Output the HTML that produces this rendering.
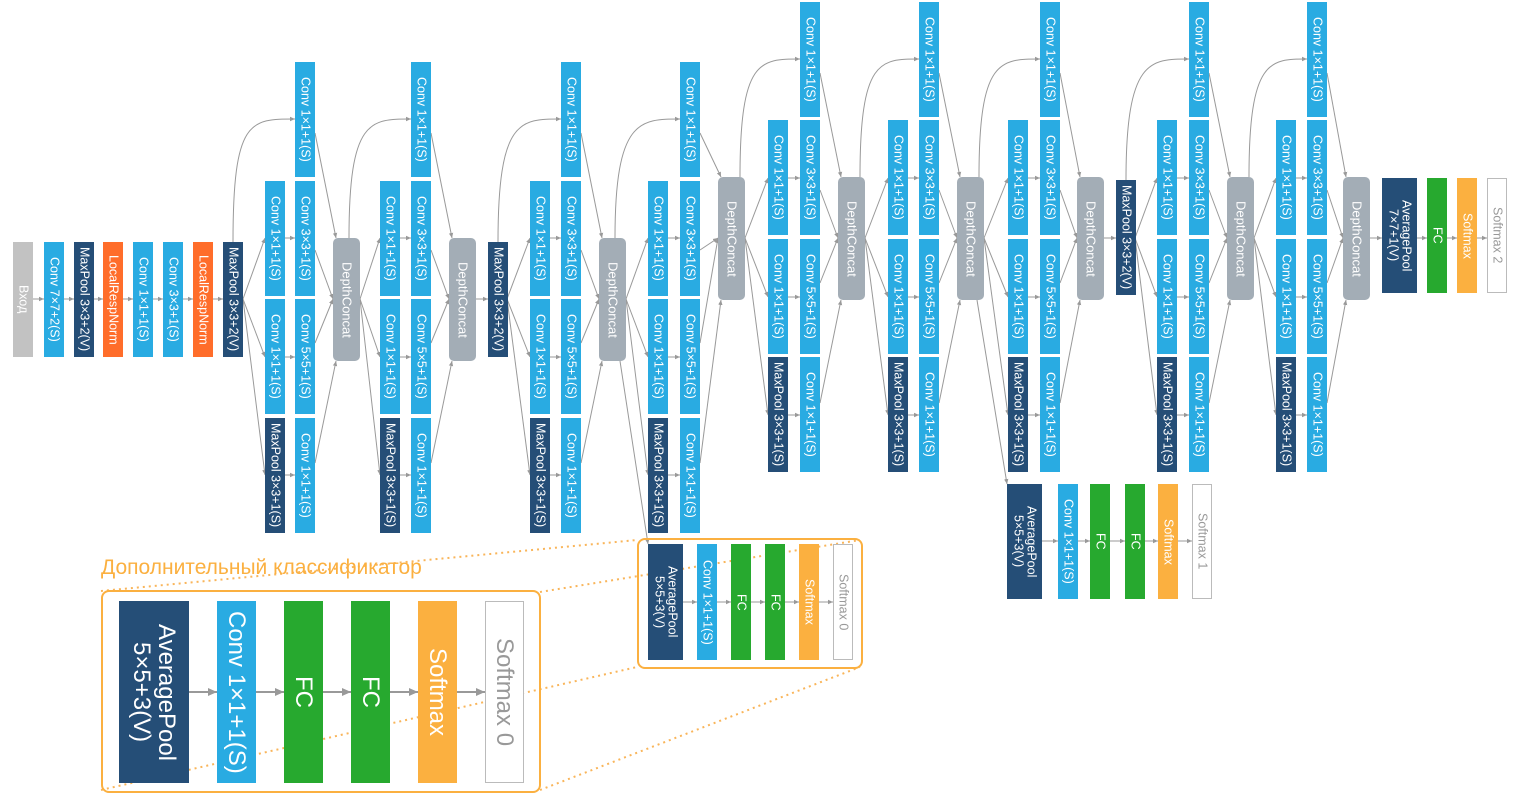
<!DOCTYPE html>
<html><head><meta charset="utf-8">
<style>
html,body{margin:0;padding:0;background:#fff;}
body{width:1515px;height:800px;position:relative;overflow:hidden;font-family:"Liberation Sans","Noto Sans CJK SC",sans-serif;}
.b{position:absolute;width:20px;height:115px;display:flex;align-items:center;justify-content:center;writing-mode:vertical-rl;text-orientation:sideways;color:#fff;font-size:12.5px;white-space:nowrap;box-sizing:border-box;line-height:1.05;text-align:center;}
.c{background:#29abe2;}
.m{background:#254e77;}
.o{background:#ff6d2a;}
.g{background:#c2c2c2;}
.f{background:#27a92f;}
.s{background:#fbb040;}
.w{background:#fff;border:1px solid #bbb;color:#999;}
.d{background:#a3adb6;width:27px;height:123px;border-radius:5px;font-size:13px;}
svg{position:absolute;left:0;top:0;}
.frame{position:absolute;border:2px solid #fbb040;border-radius:8px;box-sizing:border-box;}
.title{position:absolute;left:101px;top:556px;color:#fbb040;font-size:21px;white-space:nowrap;}
.big{width:39px;height:182px;font-size:24px;top:601px;}
</style></head><body>

<svg width="1515" height="800" viewBox="0 0 1515 800">
<defs>
<marker id="a" markerWidth="6" markerHeight="6" refX="5" refY="3" orient="auto" markerUnits="userSpaceOnUse"><path d="M0,0.8 L5,3 L0,5.2z" fill="#999"/></marker>
<marker id="A" markerWidth="10" markerHeight="10" refX="9" refY="5" orient="auto" markerUnits="userSpaceOnUse"><path d="M0,1 L9,5 L0,9z" fill="#999"/></marker>
</defs>
<g stroke="#f9b55a" stroke-width="2" stroke-dasharray="2,4" fill="none">
<line x1="101" y1="591" x2="637" y2="540"/>
<line x1="540" y1="592" x2="860" y2="540"/>
<line x1="101" y1="790" x2="637" y2="667"/>
<line x1="540" y1="790" x2="860" y2="667"/>
</g>
<g stroke="#999" stroke-width="1" fill="none" marker-end="url(#a)">
<line x1="33" y1="299" x2="44" y2="299"/><line x1="63" y1="299" x2="74" y2="299"/><line x1="93" y1="299" x2="103" y2="299"/><line x1="123" y1="299" x2="133" y2="299"/><line x1="153" y1="299" x2="163" y2="299"/><line x1="183" y1="299" x2="193" y2="299"/><line x1="213" y1="299" x2="223" y2="299"/>
<path d="M233,242 C233,119 250,119 295,119"/>
<line x1="243" y1="299" x2="265" y2="238"/><line x1="243" y1="299" x2="265" y2="357"/><line x1="243" y1="299" x2="265" y2="475"/>
<line x1="285" y1="238" x2="295" y2="238"/><line x1="285" y1="357" x2="295" y2="357"/><line x1="285" y1="475" x2="295" y2="475"/>
<line x1="315" y1="133" x2="336" y2="238"/><line x1="315" y1="250" x2="333" y2="299"/><line x1="315" y1="343" x2="333" y2="299"/><line x1="315" y1="463" x2="336" y2="361"/>
<path d="M349,238 C349,119 370,119 411,119"/>
<line x1="360" y1="299" x2="380" y2="238"/><line x1="360" y1="299" x2="380" y2="357"/><line x1="360" y1="299" x2="380" y2="475"/>
<line x1="400" y1="238" x2="411" y2="238"/><line x1="400" y1="357" x2="411" y2="357"/><line x1="400" y1="475" x2="411" y2="475"/>
<line x1="431" y1="133" x2="452" y2="238"/><line x1="431" y1="250" x2="449" y2="299"/><line x1="431" y1="343" x2="449" y2="299"/><line x1="431" y1="463" x2="452" y2="361"/>
<line x1="476" y1="299" x2="488" y2="299"/>
<path d="M498,242 C498,119 520,119 561,119"/>
<line x1="507" y1="299" x2="530" y2="238"/><line x1="507" y1="299" x2="530" y2="357"/><line x1="507" y1="299" x2="530" y2="475"/>
<line x1="550" y1="238" x2="561" y2="238"/><line x1="550" y1="357" x2="561" y2="357"/><line x1="550" y1="475" x2="561" y2="475"/>
<line x1="581" y1="133" x2="602" y2="238"/><line x1="581" y1="250" x2="599" y2="299"/><line x1="581" y1="343" x2="599" y2="299"/><line x1="581" y1="463" x2="602" y2="361"/>
<path d="M615,238 C615,119 640,119 680,119"/>
<line x1="626" y1="299" x2="648" y2="238"/><line x1="626" y1="299" x2="648" y2="357"/><line x1="626" y1="299" x2="648" y2="475"/>
<line x1="668" y1="238" x2="680" y2="238"/><line x1="668" y1="357" x2="680" y2="357"/><line x1="668" y1="475" x2="680" y2="475"/>
<line x1="700" y1="133" x2="721" y2="177"/><line x1="700" y1="250" x2="718" y2="238"/><line x1="700" y1="343" x2="718" y2="238"/><line x1="700" y1="463" x2="721" y2="300"/>
<line x1="620" y1="361" x2="648" y2="544"/>
<path d="M740,177 C740,59 760,59 800,59"/>
<line x1="745" y1="238" x2="768" y2="178"/><line x1="745" y1="238" x2="768" y2="297"/><line x1="745" y1="238" x2="768" y2="415"/>
<line x1="788" y1="178" x2="800" y2="178"/><line x1="788" y1="297" x2="800" y2="297"/><line x1="788" y1="415" x2="800" y2="415"/>
<line x1="820" y1="73" x2="841" y2="177"/><line x1="820" y1="190" x2="838" y2="238"/><line x1="820" y1="283" x2="838" y2="238"/><line x1="820" y1="403" x2="841" y2="300"/>
<path d="M860,177 C860,59 880,59 919,59"/>
<line x1="865" y1="238" x2="888" y2="178"/><line x1="865" y1="238" x2="888" y2="297"/><line x1="865" y1="238" x2="888" y2="415"/>
<line x1="908" y1="178" x2="919" y2="178"/><line x1="908" y1="297" x2="919" y2="297"/><line x1="908" y1="415" x2="919" y2="415"/>
<line x1="939" y1="73" x2="960" y2="177"/><line x1="939" y1="190" x2="957" y2="238"/><line x1="939" y1="283" x2="957" y2="238"/><line x1="939" y1="403" x2="960" y2="300"/>
<line x1="977" y1="300" x2="1007" y2="484"/>
<path d="M979,177 C979,59 1000,59 1040,59"/>
<line x1="984" y1="238" x2="1008" y2="178"/><line x1="984" y1="238" x2="1008" y2="297"/><line x1="984" y1="238" x2="1008" y2="415"/>
<line x1="1028" y1="178" x2="1040" y2="178"/><line x1="1028" y1="297" x2="1040" y2="297"/><line x1="1028" y1="415" x2="1040" y2="415"/>
<line x1="1060" y1="73" x2="1080" y2="177"/><line x1="1060" y1="190" x2="1077" y2="238"/><line x1="1060" y1="283" x2="1077" y2="238"/><line x1="1060" y1="403" x2="1080" y2="300"/>
<line x1="1104" y1="238" x2="1116" y2="238"/>
<path d="M1126,180 C1126,59 1150,59 1189,59"/>
<line x1="1135" y1="238" x2="1157" y2="178"/><line x1="1135" y1="238" x2="1157" y2="297"/><line x1="1135" y1="238" x2="1157" y2="415"/>
<line x1="1177" y1="178" x2="1189" y2="178"/><line x1="1177" y1="297" x2="1189" y2="297"/><line x1="1177" y1="415" x2="1189" y2="415"/>
<line x1="1209" y1="73" x2="1230" y2="177"/><line x1="1209" y1="190" x2="1227" y2="238"/><line x1="1209" y1="283" x2="1227" y2="238"/><line x1="1209" y1="403" x2="1230" y2="300"/>
<path d="M1249,177 C1249,59 1270,59 1307,59"/>
<line x1="1254" y1="238" x2="1276" y2="178"/><line x1="1254" y1="238" x2="1276" y2="297"/><line x1="1254" y1="238" x2="1276" y2="415"/>
<line x1="1296" y1="178" x2="1307" y2="178"/><line x1="1296" y1="297" x2="1307" y2="297"/><line x1="1296" y1="415" x2="1307" y2="415"/>
<line x1="1327" y1="73" x2="1346" y2="177"/><line x1="1327" y1="190" x2="1343" y2="238"/><line x1="1327" y1="283" x2="1343" y2="238"/><line x1="1327" y1="403" x2="1346" y2="300"/>
<line x1="1370" y1="238" x2="1382" y2="238"/><line x1="1417" y1="238" x2="1427" y2="238"/><line x1="1447" y1="238" x2="1457" y2="238"/><line x1="1477" y1="238" x2="1487" y2="238"/>
<line x1="1042" y1="541" x2="1058" y2="541"/><line x1="1077" y1="541" x2="1090" y2="541"/><line x1="1110" y1="541" x2="1125" y2="541"/><line x1="1144" y1="541" x2="1158" y2="541"/><line x1="1178" y1="541" x2="1192" y2="541"/>
<line x1="683" y1="602" x2="697" y2="602"/><line x1="717" y1="602" x2="731" y2="602"/><line x1="751" y1="602" x2="765" y2="602"/><line x1="785" y1="602" x2="799" y2="602"/><line x1="819" y1="602" x2="833" y2="602"/>
</g>
<g stroke="#999" stroke-width="2" fill="none" marker-end="url(#A)">
<line x1="189" y1="692" x2="217" y2="692"/><line x1="256" y1="692" x2="284" y2="692"/><line x1="322" y1="692" x2="351" y2="692"/><line x1="389" y1="692" x2="418" y2="692"/><line x1="457" y1="692" x2="485" y2="692"/>
</g>
</svg>

<div class="b g" style="left:13px;top:242px">Вход</div>
<div class="b c" style="left:44px;top:242px">Conv 7×7+2(S)</div>
<div class="b m" style="left:74px;top:242px">MaxPool 3×3+2(V)</div>
<div class="b o" style="left:103px;top:242px">LocalRespNorm</div>
<div class="b c" style="left:133px;top:242px">Conv 1×1+1(S)</div>
<div class="b c" style="left:163px;top:242px">Conv 3×3+1(S)</div>
<div class="b o" style="left:193px;top:242px">LocalRespNorm</div>
<div class="b m" style="left:223px;top:242px">MaxPool 3×3+2(V)</div>

<div class="b c" style="left:295px;top:62px">Conv 1×1+1(S)</div>
<div class="b c" style="left:265px;top:181px">Conv 1×1+1(S)</div>
<div class="b c" style="left:295px;top:181px">Conv 3×3+1(S)</div>
<div class="b c" style="left:265px;top:299px">Conv 1×1+1(S)</div>
<div class="b c" style="left:295px;top:299px">Conv 5×5+1(S)</div>
<div class="b m" style="left:265px;top:418px">MaxPool 3×3+1(S)</div>
<div class="b c" style="left:295px;top:418px">Conv 1×1+1(S)</div>
<div class="b d" style="left:333px;top:238px">DepthConcat</div>

<div class="b c" style="left:411px;top:62px">Conv 1×1+1(S)</div>
<div class="b c" style="left:380px;top:181px">Conv 1×1+1(S)</div>
<div class="b c" style="left:411px;top:181px">Conv 3×3+1(S)</div>
<div class="b c" style="left:380px;top:299px">Conv 1×1+1(S)</div>
<div class="b c" style="left:411px;top:299px">Conv 5×5+1(S)</div>
<div class="b m" style="left:380px;top:418px">MaxPool 3×3+1(S)</div>
<div class="b c" style="left:411px;top:418px">Conv 1×1+1(S)</div>
<div class="b d" style="left:449px;top:238px">DepthConcat</div>
<div class="b m" style="left:488px;top:242px">MaxPool 3×3+2(V)</div>

<div class="b c" style="left:561px;top:62px">Conv 1×1+1(S)</div>
<div class="b c" style="left:530px;top:181px">Conv 1×1+1(S)</div>
<div class="b c" style="left:561px;top:181px">Conv 3×3+1(S)</div>
<div class="b c" style="left:530px;top:299px">Conv 1×1+1(S)</div>
<div class="b c" style="left:561px;top:299px">Conv 5×5+1(S)</div>
<div class="b m" style="left:530px;top:418px">MaxPool 3×3+1(S)</div>
<div class="b c" style="left:561px;top:418px">Conv 1×1+1(S)</div>
<div class="b d" style="left:599px;top:238px">DepthConcat</div>

<div class="b c" style="left:680px;top:62px">Conv 1×1+1(S)</div>
<div class="b c" style="left:648px;top:181px">Conv 1×1+1(S)</div>
<div class="b c" style="left:680px;top:181px">Conv 3×3+1(S)</div>
<div class="b c" style="left:648px;top:299px">Conv 1×1+1(S)</div>
<div class="b c" style="left:680px;top:299px">Conv 5×5+1(S)</div>
<div class="b m" style="left:648px;top:418px">MaxPool 3×3+1(S)</div>
<div class="b c" style="left:680px;top:418px">Conv 1×1+1(S)</div>
<div class="b d" style="left:718px;top:177px">DepthConcat</div>

<div class="b c" style="left:800px;top:2px">Conv 1×1+1(S)</div>
<div class="b c" style="left:768px;top:120px">Conv 1×1+1(S)</div>
<div class="b c" style="left:800px;top:120px">Conv 3×3+1(S)</div>
<div class="b c" style="left:768px;top:239px">Conv 1×1+1(S)</div>
<div class="b c" style="left:800px;top:239px">Conv 5×5+1(S)</div>
<div class="b m" style="left:768px;top:357px">MaxPool 3×3+1(S)</div>
<div class="b c" style="left:800px;top:357px">Conv 1×1+1(S)</div>
<div class="b d" style="left:838px;top:177px">DepthConcat</div>

<div class="b c" style="left:919px;top:2px">Conv 1×1+1(S)</div>
<div class="b c" style="left:888px;top:120px">Conv 1×1+1(S)</div>
<div class="b c" style="left:919px;top:120px">Conv 3×3+1(S)</div>
<div class="b c" style="left:888px;top:239px">Conv 1×1+1(S)</div>
<div class="b c" style="left:919px;top:239px">Conv 5×5+1(S)</div>
<div class="b m" style="left:888px;top:357px">MaxPool 3×3+1(S)</div>
<div class="b c" style="left:919px;top:357px">Conv 1×1+1(S)</div>
<div class="b d" style="left:957px;top:177px">DepthConcat</div>

<div class="b c" style="left:1040px;top:2px">Conv 1×1+1(S)</div>
<div class="b c" style="left:1008px;top:120px">Conv 1×1+1(S)</div>
<div class="b c" style="left:1040px;top:120px">Conv 3×3+1(S)</div>
<div class="b c" style="left:1008px;top:239px">Conv 1×1+1(S)</div>
<div class="b c" style="left:1040px;top:239px">Conv 5×5+1(S)</div>
<div class="b m" style="left:1008px;top:357px">MaxPool 3×3+1(S)</div>
<div class="b c" style="left:1040px;top:357px">Conv 1×1+1(S)</div>
<div class="b d" style="left:1077px;top:177px">DepthConcat</div>
<div class="b m" style="left:1116px;top:180px">MaxPool 3×3+2(V)</div>

<div class="b c" style="left:1189px;top:2px">Conv 1×1+1(S)</div>
<div class="b c" style="left:1157px;top:120px">Conv 1×1+1(S)</div>
<div class="b c" style="left:1189px;top:120px">Conv 3×3+1(S)</div>
<div class="b c" style="left:1157px;top:239px">Conv 1×1+1(S)</div>
<div class="b c" style="left:1189px;top:239px">Conv 5×5+1(S)</div>
<div class="b m" style="left:1157px;top:357px">MaxPool 3×3+1(S)</div>
<div class="b c" style="left:1189px;top:357px">Conv 1×1+1(S)</div>
<div class="b d" style="left:1227px;top:177px">DepthConcat</div>

<div class="b c" style="left:1307px;top:2px">Conv 1×1+1(S)</div>
<div class="b c" style="left:1276px;top:120px">Conv 1×1+1(S)</div>
<div class="b c" style="left:1307px;top:120px">Conv 3×3+1(S)</div>
<div class="b c" style="left:1276px;top:239px">Conv 1×1+1(S)</div>
<div class="b c" style="left:1307px;top:239px">Conv 5×5+1(S)</div>
<div class="b m" style="left:1276px;top:357px">MaxPool 3×3+1(S)</div>
<div class="b c" style="left:1307px;top:357px">Conv 1×1+1(S)</div>
<div class="b d" style="left:1343px;top:177px">DepthConcat</div>

<div class="b m" style="left:1382px;top:178px;width:35px">AveragePool<br>7×7+1(V)</div>
<div class="b f" style="left:1427px;top:178px">FC</div>
<div class="b s" style="left:1457px;top:178px">Softmax</div>
<div class="b w" style="left:1487px;top:178px">Softmax 2</div>

<div class="b m" style="left:1007px;top:484px;width:35px">AveragePool<br>5×5+3(V)</div>
<div class="b c" style="left:1058px;top:484px">Conv 1×1+1(S)</div>
<div class="b f" style="left:1090px;top:484px">FC</div>
<div class="b f" style="left:1125px;top:484px">FC</div>
<div class="b s" style="left:1158px;top:484px">Softmax</div>
<div class="b w" style="left:1192px;top:484px">Softmax 1</div>

<div class="frame" style="left:637px;top:538px;width:226px;height:131px"></div>
<div class="b m" style="left:648px;top:544px;width:35px;height:116px">AveragePool<br>5×5+3(V)</div>
<div class="b c" style="left:697px;top:544px;height:116px">Conv 1×1+1(S)</div>
<div class="b f" style="left:731px;top:544px;height:116px">FC</div>
<div class="b f" style="left:765px;top:544px;height:116px">FC</div>
<div class="b s" style="left:799px;top:544px;height:116px">Softmax</div>
<div class="b w" style="left:833px;top:544px;height:116px">Softmax 0</div>

<div class="title">Дополнительный классификатор</div>
<div class="frame" style="left:101px;top:590px;width:440px;height:203px"></div>
<div class="b m big" style="left:119px;width:70px">AveragePool<br>5×5+3(V)</div>
<div class="b c big" style="left:217px">Conv 1×1+1(S)</div>
<div class="b f big" style="left:284px">FC</div>
<div class="b f big" style="left:351px">FC</div>
<div class="b s big" style="left:418px">Softmax</div>
<div class="b w big" style="left:485px">Softmax 0</div>
</body></html>
